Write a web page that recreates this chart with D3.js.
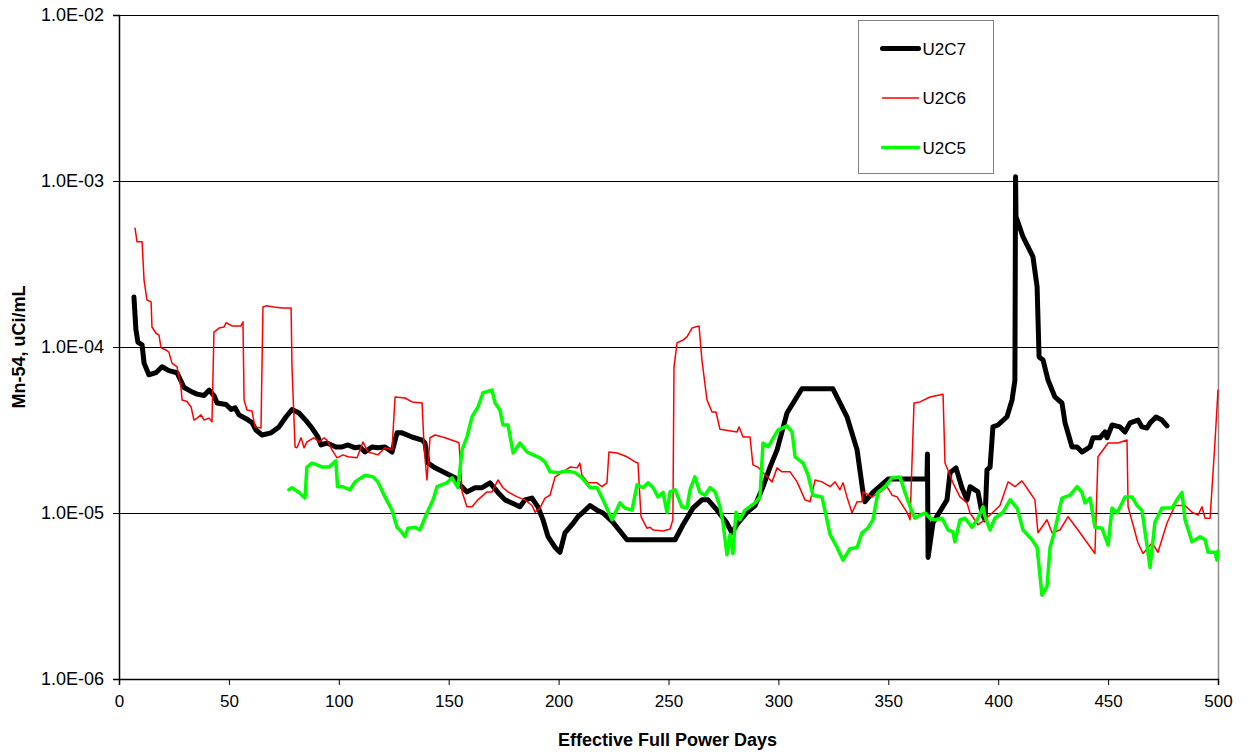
<!DOCTYPE html>
<html>
<head>
<meta charset="utf-8">
<script src="https://cdn.jsdelivr.net/npm/d3@7"></script>
<style>
  body { margin: 0; background: #fff; }
  svg text { font-family: "Liberation Sans", Arial, sans-serif; }
</style>
</head>
<body>
<svg id="chart" width="1247" height="755"></svg>
<script>
// Mn-54 activity vs EFPD, three cycles

var xTicks = [0, 50, 100, 150, 200, 250, 300, 350, 400, 450, 500];
var yTicks = [1e-6, 1e-5, 1e-4, 1e-3, 1e-2];
var yTickLabels = ["1.0E-06", "1.0E-05", "1.0E-04", "1.0E-03", "1.0E-02"];
var seriesNames = ["U2C7", "U2C6", "U2C5"];

// [EFPD, uCi/mL]
var u2c7 = [
  [6.8,2.0e-4],[7.7,1.27e-4],[8.6,1.07e-4],[10.5,1.03e-4],[11.4,8.0e-5],[13.6,6.8e-5],[16.8,7.0e-5],
  [19.6,7.6e-5],[22.7,7.2e-5],[26.4,7.0e-5],[29.6,5.7e-5],[32.8,5.4e-5],[35.5,5.2e-5],[38.7,5.1e-5],
  [41.0,5.5e-5],[43.2,5.1e-5],[44.6,4.6e-5],[48.7,4.5e-5],[51.0,4.2e-5],[52.8,4.3e-5],[54.6,3.9e-5],
  [57.8,3.7e-5],[60.5,3.5e-5],[62.3,3.16e-5],[65.1,2.95e-5],[69.2,3.04e-5],[72.8,3.3e-5],[76.0,3.8e-5],
  [78.7,4.2e-5],[81.9,4.0e-5],[85.1,3.6e-5],[87.8,3.25e-5],[90.5,2.87e-5],[91.9,2.57e-5],[94.6,2.64e-5],
  [98.7,2.5e-5],[101.5,2.5e-5],[104.2,2.57e-5],[107.4,2.47e-5],[109.6,2.5e-5],[111.9,2.33e-5],[115.1,2.5e-5],
  [117.8,2.47e-5],[121.0,2.5e-5],[124.2,2.33e-5],[126.5,3.04e-5],[128.8,3.04e-5],[133.3,2.87e-5],
  [137.9,2.75e-5],[139.2,2.64e-5],[140.6,2.0e-5],[143.8,1.87e-5],[148.3,1.75e-5],[152.9,1.63e-5],
  [155.1,1.48e-5],[158.3,1.34e-5],[162.0,1.42e-5],[165.2,1.42e-5],[168.8,1.52e-5],[172.4,1.33e-5],
  [175.6,1.2e-5],[178.8,1.15e-5],[182.4,1.09e-5],[184.7,1.2e-5],[187.9,1.23e-5],[190.6,1.09e-5],
  [192.9,9.1e-6],[195.2,7.2e-6],[198.4,6.2e-6],[200.6,5.8e-6],[202.9,7.6e-6],[206.1,8.5e-6],[208.8,9.5e-6],
  [211.1,1.01e-5],[214.3,1.11e-5],[217.5,1.04e-5],[220.2,1.0e-5],[224.7,8.8e-6],[231.1,6.9e-6],
  [253.0,6.9e-6],[256.6,8.5e-6],[261.1,1.07e-5],[265.2,1.2e-5],[268.0,1.2e-5],[272.1,1.04e-5],
  [276.6,8.7e-6],[278.9,7.6e-6],[281.6,8.7e-6],[285.7,1.01e-5],[289.4,1.11e-5],[293.0,1.44e-5],
  [296.2,1.89e-5],[299.4,2.4e-5],[303.9,4.0e-5],[310.7,5.6e-5],[324.8,5.6e-5],[331.2,3.8e-5],
  [335.8,2.4e-5],[338.5,1.33e-5],[339.4,1.17e-5],[343.0,1.33e-5],[349.9,1.6e-5],[367.6,1.6e-5],
  [367.8,2.27e-5],[368.1,5.4e-6],[370.3,8.7e-6],[376.7,1.2e-5],[378.1,1.75e-5],[380.8,1.87e-5],
  [383.5,1.42e-5],[385.8,1.2e-5],[387.2,1.44e-5],[390.8,1.34e-5],[392.6,1.0e-5],[394.0,9.1e-6],
  [394.9,1.82e-5],[396.3,1.89e-5],[397.6,3.3e-5],[399.9,3.39e-5],[404.0,3.8e-5],[406.3,4.8e-5],
  [407.6,6.3e-5],[407.9,1.06e-3],[408.1,6.1e-4],[411.3,4.6e-4],[415.8,3.5e-4],[417.7,2.3e-4],
  [418.6,8.7e-5],[420.4,8.35e-5],[422.7,6.3e-5],[425.8,5.0e-5],[429.0,4.6e-5],[430.4,3.5e-5],
  [433.6,2.5e-5],[435.9,2.5e-5],[438.1,2.33e-5],[441.8,2.5e-5],[443.1,2.84e-5],[446.3,2.84e-5],
  [448.6,3.08e-5],[449.5,2.84e-5],[451.8,3.39e-5],[455.4,3.3e-5],[457.7,3.08e-5],[460.0,3.49e-5],
  [463.6,3.63e-5],[465.4,3.3e-5],[467.7,3.25e-5],[469.1,3.49e-5],[471.8,3.79e-5],[474.5,3.63e-5],
  [476.8,3.35e-5]
];

var u2c6 = [
  [7.3,5.2e-4],[8.2,4.3e-4],[10.5,4.3e-4],[11.4,2.53e-4],[12.7,1.92e-4],[14.6,1.87e-4],[15.0,1.32e-4],
  [16.8,1.21e-4],[18.2,1.18e-4],[19.1,9.9e-5],[21.4,9.6e-5],[22.7,9.3e-5],[24.1,8.0e-5],[26.4,7.6e-5],
  [27.3,6.6e-5],[28.2,5.7e-5],[28.7,4.8e-5],[30.9,4.7e-5],[32.8,4.35e-5],[34.1,3.63e-5],[35.5,3.73e-5],
  [37.3,3.9e-5],[38.7,3.63e-5],[41.0,3.73e-5],[42.3,3.54e-5],[43.2,1.23e-4],[45.5,1.3e-4],[47.8,1.32e-4],
  [48.7,1.4e-4],[51.4,1.34e-4],[55.5,1.34e-4],[56.4,1.42e-4],[56.9,4.8e-5],[58.2,4.17e-5],[60.5,4.11e-5],
  [61.9,3.3e-5],[64.6,3.25e-5],[65.5,1.74e-4],[66.9,1.77e-4],[70.5,1.74e-4],[74.2,1.72e-4],[78.3,1.72e-4],
  [78.7,7.6e-5],[80.1,2.5e-5],[81.0,2.47e-5],[82.8,2.84e-5],[84.2,2.47e-5],[85.5,2.68e-5],[88.7,2.84e-5],
  [91.0,2.68e-5],[93.3,2.84e-5],[94.6,2.75e-5],[96.9,2.4e-5],[99.2,2.15e-5],[101.9,2.24e-5],[104.2,2.18e-5],
  [108.3,2.15e-5],[111.0,2.68e-5],[113.3,2.33e-5],[117.8,2.24e-5],[121.0,2.47e-5],[124.2,2.4e-5],
  [125.6,5.0e-5],[130.1,4.93e-5],[133.3,4.67e-5],[137.9,4.6e-5],[138.8,2.5e-5],[140.1,1.58e-5],
  [141.5,2.84e-5],[143.8,2.95e-5],[148.3,2.84e-5],[153.8,2.68e-5],[154.7,2.64e-5],[156.1,1.34e-5],
  [158.3,1.09e-5],[160.6,1.09e-5],[163.3,1.2e-5],[167.4,1.34e-5],[169.7,1.34e-5],[172.4,1.58e-5],
  [174.7,1.42e-5],[177.0,1.34e-5],[181.1,1.25e-5],[184.7,1.2e-5],[187.9,1.11e-5],[189.3,1.01e-5],
  [191.5,1.07e-5],[193.8,1.23e-5],[196.1,1.28e-5],[198.4,1.65e-5],[201.5,1.75e-5],[205.2,1.89e-5],
  [208.4,1.87e-5],[209.7,2.0e-5],[210.6,1.69e-5],[213.4,1.52e-5],[217.5,1.52e-5],[219.7,1.44e-5],
  [222.0,1.52e-5],[222.9,2.33e-5],[226.6,2.3e-5],[231.1,2.18e-5],[234.8,2.03e-5],[236.1,2.0e-5],
  [237.5,9.5e-6],[240.2,8.1e-6],[241.6,8.2e-6],[243.0,7.9e-6],[247.5,7.8e-6],[250.7,8.0e-6],[252.0,9.1e-6],
  [252.5,7.6e-5],[253.9,1.06e-4],[256.6,1.1e-4],[258.4,1.15e-4],[260.7,1.3e-4],[263.9,1.34e-4],
  [265.2,8.35e-5],[267.5,4.8e-5],[269.8,4.06e-5],[271.6,4.06e-5],[273.4,3.2e-5],[281.2,3.08e-5],
  [282.1,3.3e-5],[283.9,2.87e-5],[287.1,2.87e-5],[288.4,1.95e-5],[290.7,1.89e-5],[293.0,1.75e-5],
  [295.3,1.63e-5],[297.1,1.54e-5],[299.4,1.87e-5],[301.6,1.77e-5],[305.3,1.77e-5],[308.5,1.54e-5],
  [312.1,1.2e-5],[314.4,1.17e-5],[316.7,1.58e-5],[319.8,1.54e-5],[323.5,1.44e-5],[325.8,1.54e-5],
  [328.0,1.38e-5],[329.4,1.52e-5],[331.2,1.25e-5],[333.5,1.0e-5],[335.8,1.17e-5],[338.0,1.17e-5],
  [338.5,1.34e-5],[342.6,1.25e-5],[346.2,1.33e-5],[349.4,1.44e-5],[351.7,1.28e-5],[354.0,1.25e-5],
  [358.5,1.01e-5],[359.9,9.1e-6],[361.7,4.6e-5],[364.4,4.67e-5],[369.0,5.0e-5],[374.9,5.2e-5],
  [375.8,2.0e-5],[378.1,1.69e-5],[379.4,1.52e-5],[382.6,1.25e-5],[385.8,1.15e-5],[387.2,1.0e-5],
  [390.8,8.5e-6],[394.0,9.1e-6],[400.8,1.11e-5],[404.5,1.54e-5],[407.6,1.44e-5],[410.8,1.56e-5],
  [413.6,1.38e-5],[416.7,1.2e-5],[418.1,7.6e-6],[422.2,9.1e-6],[424.5,7.6e-6],[428.1,7.9e-6],
  [431.8,9.5e-6],[436.3,7.9e-6],[439.5,6.9e-6],[444.0,5.7e-6],[445.4,2.18e-5],[450.0,2.64e-5],
  [454.5,2.64e-5],[458.6,2.75e-5],[459.1,1.09e-5],[463.6,6.6e-6],[465.9,5.7e-6],[470.0,6.6e-6],
  [472.7,5.8e-6],[476.8,8.7e-6],[480.4,1.11e-5],[485.0,1.11e-5],[488.2,1.01e-5],[490.9,9.7e-6],
  [492.7,1.09e-5],[494.1,9.3e-6],[496.4,9.3e-6],[498.6,2.64e-5],[500.0,5.5e-5]
];

var u2c5 = [
  [77.3,1.38e-5],[78.7,1.42e-5],[81.9,1.33e-5],[84.6,1.23e-5],[85.5,1.89e-5],[87.8,2.0e-5],[90.1,1.95e-5],
  [92.4,1.89e-5],[95.5,1.89e-5],[98.7,2.06e-5],[99.4,1.44e-5],[101.9,1.44e-5],[102.8,1.42e-5],
  [105.1,1.38e-5],[107.4,1.54e-5],[111.9,1.69e-5],[115.6,1.65e-5],[117.8,1.54e-5],[121.0,1.25e-5],
  [124.2,1.04e-5],[126.5,8.2e-6],[127.8,7.9e-6],[130.1,7.2e-6],[131.5,8.1e-6],[134.7,8.2e-6],[136.9,7.9e-6],
  [140.1,1.0e-5],[142.9,1.2e-5],[144.7,1.44e-5],[147.0,1.48e-5],[149.2,1.52e-5],[151.5,1.63e-5],
  [154.2,1.42e-5],[156.1,2.4e-5],[158.3,2.87e-5],[160.6,3.79e-5],[163.3,4.35e-5],[165.6,5.3e-5],
  [169.7,5.5e-5],[171.1,4.6e-5],[173.3,4.17e-5],[174.7,3.39e-5],[177.0,3.39e-5],[179.3,2.3e-5],
  [182.4,2.64e-5],[185.6,2.33e-5],[188.4,2.24e-5],[191.5,2.15e-5],[193.8,2.03e-5],[196.1,1.77e-5],
  [199.7,1.75e-5],[203.8,1.79e-5],[207.5,1.75e-5],[210.6,1.63e-5],[214.3,1.42e-5],[217.5,1.42e-5],
  [220.2,1.2e-5],[224.3,9.1e-6],[227.9,1.15e-5],[230.2,1.07e-5],[233.4,1.04e-5],[235.7,1.48e-5],
  [238.4,1.42e-5],[240.7,1.52e-5],[243.0,1.42e-5],[245.2,1.25e-5],[247.5,1.33e-5],[249.3,1.01e-5],
  [250.7,1.34e-5],[253.0,1.38e-5],[254.3,1.25e-5],[256.1,1.09e-5],[258.4,1.07e-5],[259.8,1.38e-5],
  [262.0,1.65e-5],[264.3,1.33e-5],[266.6,1.28e-5],[268.9,1.42e-5],[271.2,1.34e-5],[273.4,1.09e-5],
  [274.8,8.7e-6],[276.6,5.6e-6],[278.0,7.4e-6],[279.3,5.7e-6],[280.7,1.01e-5],[282.5,9.1e-6],
  [284.8,1.04e-5],[289.4,1.15e-5],[291.6,1.25e-5],[293.0,2.64e-5],[295.3,2.5e-5],[299.8,3.16e-5],
  [303.9,3.35e-5],[306.2,3.08e-5],[307.6,2.18e-5],[311.2,2.0e-5],[313.5,1.69e-5],[315.7,1.28e-5],
  [319.8,1.25e-5],[322.1,9.1e-6],[323.5,7.4e-6],[326.7,6.2e-6],[329.4,5.2e-6],[332.6,6.1e-6],
  [335.8,6.2e-6],[338.0,7.6e-6],[340.7,8.1e-6],[343.0,9.1e-6],[345.3,1.33e-5],[348.5,1.44e-5],
  [351.7,1.63e-5],[355.3,1.65e-5],[357.6,1.33e-5],[359.9,1.09e-5],[362.1,9.3e-6],[364.4,9.7e-6],
  [366.7,1.0e-5],[369.0,9.3e-6],[371.2,9.1e-6],[374.4,9.3e-6],[377.2,7.9e-6],[379.4,7.7e-6],[380.3,6.7e-6],
  [382.6,9.1e-6],[384.9,9.3e-6],[388.1,8.2e-6],[390.8,9.3e-6],[393.1,1.09e-5],[394.0,9.5e-6],[396.3,7.9e-6],
  [398.5,9.3e-6],[402.2,1.01e-5],[405.4,1.2e-5],[408.6,1.07e-5],[411.3,7.9e-6],[415.4,6.9e-6],
  [417.7,6.2e-6],[419.9,3.2e-6],[422.2,3.6e-6],[423.6,6.2e-6],[425.8,7.9e-6],[429.0,1.23e-5],
  [432.7,1.28e-5],[435.9,1.44e-5],[438.1,1.33e-5],[439.5,1.15e-5],[441.8,1.23e-5],[444.0,8.2e-6],
  [447.2,8.1e-6],[450.0,6.4e-6],[451.8,1.07e-5],[454.1,1.0e-5],[457.7,1.25e-5],[460.9,1.25e-5],
  [463.1,1.11e-5],[465.4,1.04e-5],[468.2,5.7e-6],[469.1,4.7e-6],[471.3,8.8e-6],[474.5,1.07e-5],
  [479.1,1.07e-5],[481.3,1.2e-5],[483.6,1.33e-5],[485.0,9.1e-6],[488.2,6.7e-6],[491.8,7.2e-6],
  [494.1,6.9e-6],[495.5,5.8e-6],[498.6,5.8e-6],[499.5,5.2e-6],[500.0,5.9e-6]
];

var svg = d3.select("#chart"),
    margin = {top: 15, right: 29, bottom: 76, left: 119},
    width = +svg.attr("width") - margin.left - margin.right,
    height = +svg.attr("height") - margin.top - margin.bottom,
    g = svg.append("g").attr("transform", "translate(" + margin.left + "," + margin.top + ")");

var x = d3.scaleLinear().domain([0, 500]).range([0, width]);
var y = d3.scaleLog().domain([1e-6, 1e-2]).range([height, 0]);

// right border of plot area
g.append("line")
    .attr("x1", width + 0.5).attr("x2", width + 0.5)
    .attr("y1", 0).attr("y2", height)
    .attr("stroke", "#8c8c8c").attr("stroke-width", 1.5);

// horizontal gridlines at each decade
g.selectAll(".grid")
  .data(yTicks.slice(1))
  .enter().append("line")
    .attr("class", "grid")
    .attr("x1", 0).attr("x2", width)
    .attr("y1", function(d) { return Math.round(y(d)) + 0.5; })
    .attr("y2", function(d) { return Math.round(y(d)) + 0.5; })
    .attr("stroke", "#000").attr("stroke-width", 1)
    .attr("shape-rendering", "crispEdges");

// y axis
var yAxis = g.append("g")
    .call(d3.axisLeft(y).tickValues(yTicks).tickSize(6).tickPadding(9)
      .tickFormat(function(d, i) { return yTickLabels[i]; }));
yAxis.select(".domain").attr("stroke", "#000").attr("stroke-width", 1.5);
yAxis.selectAll(".tick line").attr("stroke", "#000");
yAxis.selectAll("text").attr("font-size", 18).attr("fill", "#000");

// x axis
var xAxis = g.append("g")
    .attr("transform", "translate(0," + height + ")")
    .call(d3.axisBottom(x).tickValues(xTicks).tickSize(6).tickPadding(10));
xAxis.select(".domain").attr("stroke", "#000").attr("stroke-width", 1.5);
xAxis.selectAll(".tick line").attr("stroke", "#000");
xAxis.selectAll("text").attr("font-size", 17).attr("fill", "#000");

// axis titles
svg.append("text")
    .attr("x", margin.left + width / 2 - 1)
    .attr("y", 746)
    .attr("text-anchor", "middle")
    .attr("font-size", 18).attr("font-weight", "bold")
    .text("Effective Full Power Days");

svg.append("text")
    .attr("transform", "translate(25," + (margin.top + height / 2) + ") rotate(-90)")
    .attr("text-anchor", "middle")
    .attr("font-size", 18).attr("font-weight", "bold")
    .text("Mn-54, uCi/mL");

var line = d3.line()
    .x(function(d) { return x(d[0]); })
    .y(function(d) { return y(d[1]); });

var series = [
  {name: seriesNames[0], data: u2c7, color: "#000000", w: 5},
  {name: seriesNames[1], data: u2c6, color: "#ff0000", w: 1.5},
  {name: seriesNames[2], data: u2c5, color: "#00ff00", w: 3.5}
];

g.selectAll(".series")
  .data(series)
  .enter().append("path")
    .attr("class", "series")
    .attr("d", function(s) { return line(s.data); })
    .attr("fill", "none")
    .attr("stroke", function(s) { return s.color; })
    .attr("stroke-width", function(s) { return s.w; })
    .attr("stroke-linejoin", "round")
    .attr("stroke-linecap", "round");

// legend
var legend = svg.append("g").attr("transform", "translate(858.5,20.5)");
legend.append("rect")
    .attr("width", 135).attr("height", 153)
    .attr("fill", "#fff").attr("stroke", "#808080").attr("stroke-width", 1);

var item = legend.selectAll(".item")
  .data(series)
  .enter().append("g")
    .attr("class", "item")
    .attr("transform", function(s, i) { return "translate(0," + (28 + i * 49.5) + ")"; });

item.append("line")
    .attr("x1", 24).attr("x2", 60)
    .attr("stroke", function(s) { return s.color; })
    .attr("stroke-width", function(s) { return s.w; })
    .attr("stroke-linecap", "round");

item.append("text")
    .attr("x", 64).attr("dy", "0.36em")
    .attr("font-size", 17)
    .text(function(s) { return s.name; });
</script>
</body>
</html>
